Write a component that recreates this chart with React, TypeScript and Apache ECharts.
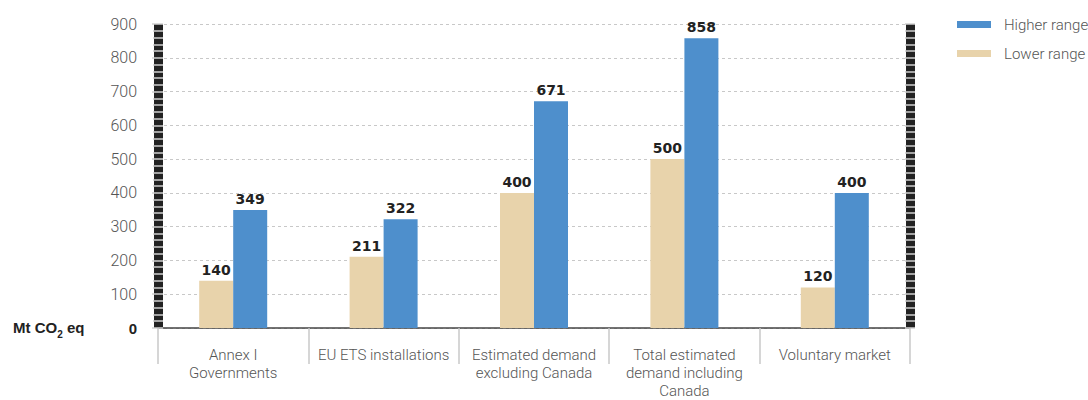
import React, { useEffect, useRef } from "react";
import * as echarts from "echarts";

const categories = [
  "Annex I\nGovernments",
  "EU ETS installations",
  "Estimated demand\nexcluding Canada",
  "Total estimated\ndemand including\nCanada",
  "Voluntary market",
];
const lowerRange = [140, 211, 400, 500, 120];
const higherRange = [349, 322, 671, 858, 400];
const yMin = 0;
const yMax = 900;
const yInterval = 100;

const LIGHT = "Roboto, 'Liberation Sans', sans-serif";
const BOLD = "'Liberation Sans', Arial, sans-serif";
const HEAVY = "'DejaVu Sans', 'Liberation Sans', sans-serif";

export default function App() {
  const ref = useRef<HTMLDivElement>(null);
  useEffect(() => {
    document.body.style.margin = "0";
    const chart = echarts.init(ref.current!, null, { renderer: "svg" });
    const stripAxis = (position: string, inside: boolean, showLine: boolean) => ({
      type: "value",
      position,
      offset: 0,
      min: yMin,
      max: yMax,
      interval: yInterval,
      axisLabel: { show: false },
      splitLine: { show: false },
      axisLine: { show: showLine, lineStyle: { color: "#222", width: 9, cap: "butt" } },
      axisTick: { show: true, inside, length: 5, lineStyle: { color: "#d0d0d0", width: 1.5 } },
      minorTick: { show: true, splitNumber: 5, length: 5, lineStyle: { color: "#d0d0d0", width: 1.5 } },
    });
    const option: any = {
      animation: false,
      textStyle: { fontFamily: LIGHT },
      grid: { left: 158, right: 178, top: 24, bottom: 71, containLabel: false },
      legend: {
        orient: "vertical",
        left: 952,
        top: 12,
        itemWidth: 34,
        itemHeight: 7,
        itemGap: 14,
        icon: "rect",
        data: ["Higher range", "Lower range"],
        textStyle: { color: "#555", fontSize: 15, fontWeight: 300, fontFamily: LIGHT, padding: [0, 0, 0, 8] },
      },
      graphic: [
        {
          type: "text",
          left: 13,
          top: 320,
          style: {
            text: "{a|Mt CO}{s|2}{a| eq}",
            rich: {
              a: { fontSize: 15, fontWeight: "bold", fill: "#222", fontFamily: BOLD, verticalAlign: "top", lineHeight: 18 },
              s: { fontSize: 10, fontWeight: "bold", fill: "#222", fontFamily: BOLD, verticalAlign: "top", lineHeight: 18, padding: [9, 0, 0, 0] },
            },
          },
        },
      ],
      xAxis: {
        type: "category",
        data: categories,
        boundaryGap: true,
        axisLine: { lineStyle: { color: "#444", width: 1.5 } },
        axisTick: { show: true, length: 36, lineStyle: { color: "#c8c8c8", width: 1.5 } },
        axisLabel: {
          color: "#555",
          fontSize: 15,
          fontWeight: 300,
          fontFamily: LIGHT,
          margin: 18,
          lineHeight: 18,
          interval: 0,
        },
      },
      yAxis: [
        {
          type: "value",
          position: "left",
          offset: 0,
          min: yMin,
          max: yMax,
          interval: yInterval,
          axisLine: { show: true, lineStyle: { color: "#222", width: 9, cap: "butt" } },
          axisTick: { show: true, inside: false, length: 6, lineStyle: { color: "#d0d0d0", width: 1.5 } },
          minorTick: { show: true, splitNumber: 5, length: 5, lineStyle: { color: "#d0d0d0", width: 1.5 } },
          splitLine: { show: true, lineStyle: { color: "#c8c8c8", type: [3, 3], width: 1 } },
          axisLabel: {
            margin: 21,
            formatter: (v: number) => (v === 0 ? "{b|0}" : "{n|" + v + "}"),
            rich: {
              n: { color: "#555", fontSize: 16, fontWeight: 300, fontFamily: LIGHT },
              b: { color: "#222", fontSize: 15, fontWeight: "bold", fontFamily: BOLD },
            },
          },
        },
        stripAxis("right", false, true),
        stripAxis("left", true, false),
        stripAxis("right", true, false),
      ],
      series: [
        {
          name: "Lower range",
          type: "bar",
          data: lowerRange,
          barWidth: 34,
          barGap: "0%",
          itemStyle: { color: "#e8d3ab" },
          label: { show: true, position: "top", color: "#222", fontSize: 14, fontWeight: "bold", fontFamily: HEAVY, distance: 4 },
        },
        {
          name: "Higher range",
          type: "bar",
          data: higherRange,
          barWidth: 34,
          barGap: "0%",
          itemStyle: { color: "#4e8fcc" },
          label: { show: true, position: "top", color: "#222", fontSize: 14, fontWeight: "bold", fontFamily: HEAVY, distance: 4 },
        },
      ],
    };
    chart.setOption(option);
    return () => chart.dispose();
  }, []);
  return <div ref={ref} style={{ width: 1088, height: 400 }} />;
}
